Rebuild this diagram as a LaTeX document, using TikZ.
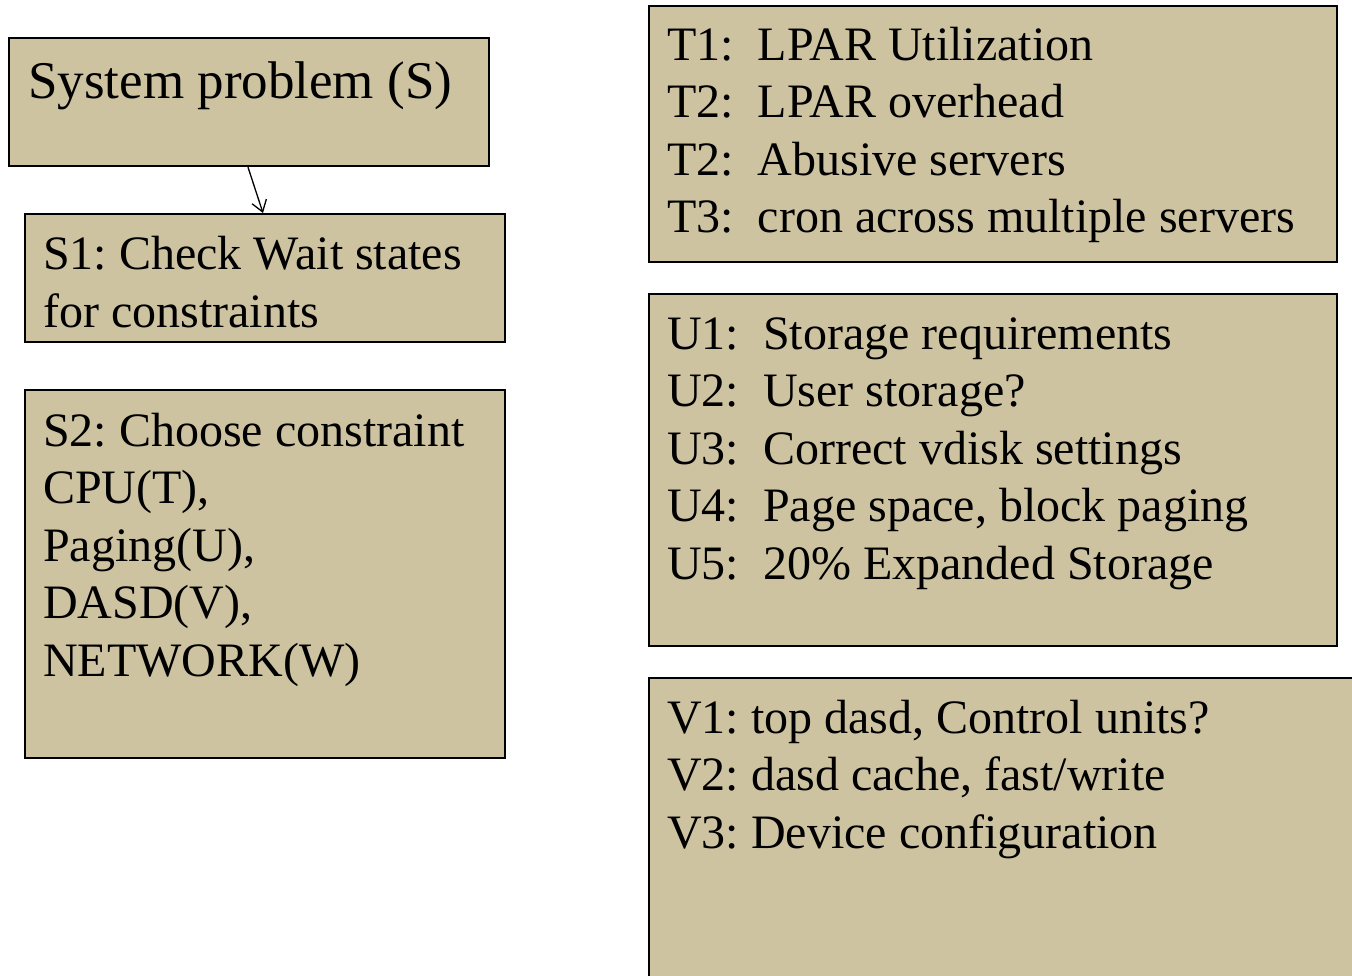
\documentclass[tikz,border=0pt]{standalone}
\usepackage{fontspec}
\setmainfont{Liberation Serif}
\usetikzlibrary{arrows.meta}
\definecolor{khaki}{RGB}{205,195,161}
\frenchspacing

\begin{document}
\begin{tikzpicture}[x=1pt, y=-1pt,
		box/.style={draw=black, fill=khaki, line width=2.2pt, anchor=north west, inner sep=0pt},
		txt/.style={anchor=base west, align=left, inner sep=0pt, font=\fontsize{48pt}{57.5pt}\selectfont},
		big/.style={txt, font=\fontsize{53pt}{60pt}\selectfont},
	]
	\clip (0,0) rectangle (1352,976);
	\fill[white] (0,0) rectangle (1352,976);

	\node[box, minimum width=480pt, minimum height=128pt] (S) at (8,37) {};
	\node[box, minimum width=480pt, minimum height=128pt] (S1) at (24,213) {};
	\node[box, minimum width=480pt, minimum height=368pt] (S2) at (24,389) {};
	%
	\node[box, minimum width=688pt, minimum height=256pt] (T) at (648,5) {};
	\node[box, minimum width=688pt, minimum height=352pt] (U) at (648,293) {};
	\node[box, minimum width=720pt, minimum height=320pt] (V) at (648,677) {};

	% text nodes sit on the baseline of their last line
	\node[big] (Stext) at (28,99) {System problem (S)};
	\node[txt] (S1text) at (43,327) {S1: Check Wait states\\for constraints};
	\node[txt] (S2text) at (43,676) {S2: Choose constraint\\CPU(T),\\Paging(U),\\DASD(V),\\NETWORK(W)};
	%
	\node[txt] (Ttext) at (667,233) {T1:\ \ LPAR Utilization\\T2:\ \ LPAR overhead\\T2:\ \ Abusive servers\\T3:\ \ cron across multiple servers};
	\node[txt] (Utext) at (667,579) {U1:\ \ Storage requirements\\U2:\ \ User storage?\\U3:\ \ Correct vdisk settings\\U4:\ \ Page space, block paging\\U5:\ \ 20\% Expanded Storage};
	\node[txt] (Vtext) at (667,848) {V1: top dasd, Control units?\\V2: dasd cache, fast/write\\V3: Device configuration};

	\draw[line width=1.3pt, -{Straight Barb[length=11pt, width=15pt, line width=1.3pt]}] (S.south -| 248,0) -- (S1.north -| 263,0);
\end{tikzpicture}
\end{document}
